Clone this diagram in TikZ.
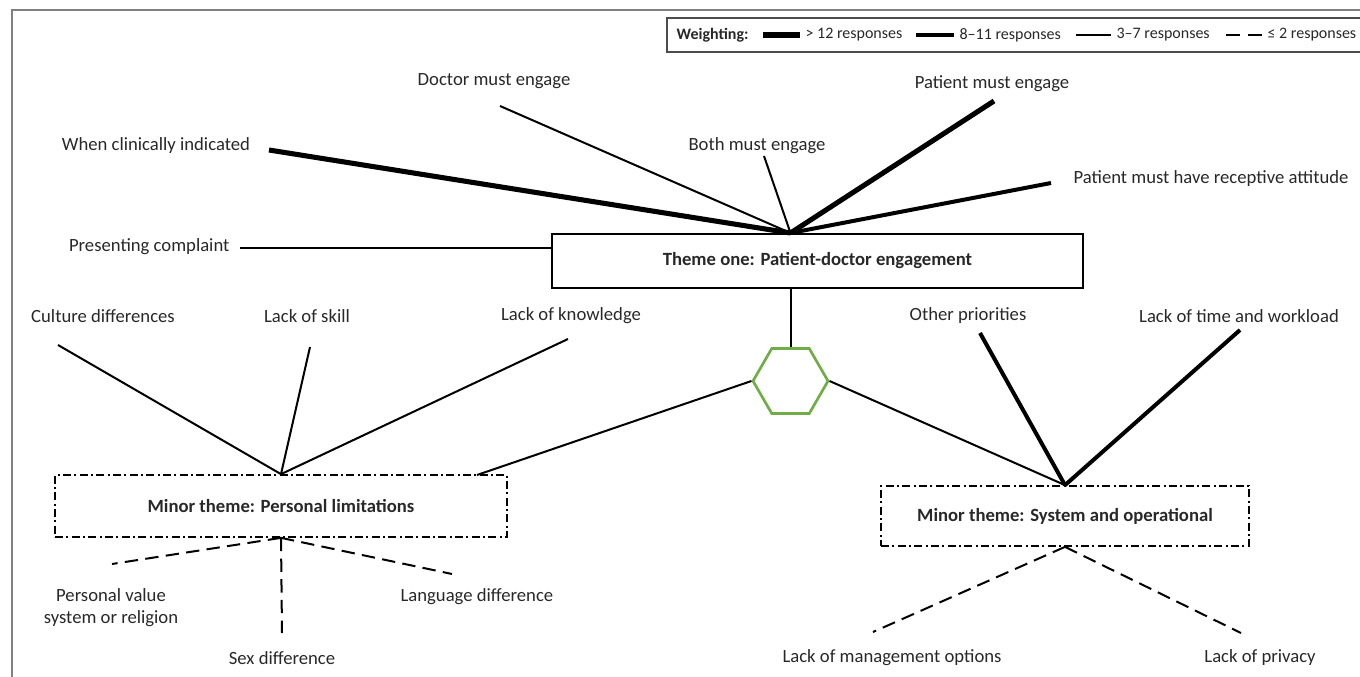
\documentclass[tikz,border=0pt]{standalone}
\usepackage{fontspec}
\setmainfont{Carlito}
\usepackage{xcolor}
\usepackage{tikz}
\usetikzlibrary{positioning}
\usetikzlibrary{shapes.geometric}
\definecolor{textgray}{RGB}{40,40,40}
\definecolor{framegray}{RGB}{128,128,128}
\definecolor{hexgreen}{RGB}{112,173,71}

\begin{document}
\begin{tikzpicture}[x=0.75pt,y=-0.75pt,inner sep=1pt,
    lbl/.style={text=textgray,font=\fontsize{14}{16.5}\selectfont},
    legtext/.style={text=textgray,font=\fontsize{12}{14}\selectfont},
    wtop/.style={line width=3.8pt},
    wmid/.style={line width=3pt},
    wlow/.style={line width=1.5pt},
    wmin/.style={line width=1.5pt,dash pattern=on 10pt off 5.5pt},
    minor/.style={draw,line width=1.3pt,dash pattern=on 6pt off 2.5pt on 1.5pt off 2.5pt,text=textgray,font=\bfseries\fontsize{14}{16.5}\selectfont}]
	\useasboundingbox (0,0) rectangle (1360,677);
	\draw[framegray,line width=1.2pt] (12,677) -- (12,10) -- (1362,10);
	\draw[black!70,line width=1pt] (1364,18) -- (667,18) -- (667,52) -- (1364,52);
	\node[legtext,anchor=west,font=\bfseries\fontsize{12}{14}\selectfont] (weighting) at (675,35) {Weighting:};
	\coordinate (l1a) at (763,35); \coordinate (l1b) at (800,35);
	\coordinate (l2a) at (916,35); \coordinate (l2b) at (954,35);
	\coordinate (l3a) at (1076,35); \coordinate (l3b) at (1111,35);
	\coordinate (l4a) at (1226,35); \coordinate (l4b) at (1262,35);
	\node[legtext,right=3pt of l1b] (leg1) {> 12 responses};
	\node[legtext,right=3pt of l2b] (leg2) {8–11 responses};
	\node[legtext,right=3pt of l3b] (leg3) {3–7 responses};
	\node[legtext,right=3pt of l4b] (leg4) {≤ 2 responses};
	\draw[wtop] (l1a) -- (l1b);
	\draw[wmid] (l2a) -- (l2b);
	\draw[wlow] (l3a) -- (l3b);
	\draw[wmin,dash pattern=on 10.5pt off 6pt] (l4a) -- (l4b);

	\node[draw,line width=1.5pt,minimum width=398pt,minimum height=40.5pt,text=textgray,font=\bfseries\fontsize{14}{16.5}\selectfont] (theme) at (817.5,261) {Theme one: Patient-doctor engagement};
	\node[regular polygon,regular polygon sides=6,minimum size=56.25pt,inner sep=0pt,draw=hexgreen,line width=2pt] (hex) at (790.5,381) {};
	\node[minor,minimum width=339pt,minimum height=46.5pt] (personal) at (281,506) {Minor theme: Personal limitations};
	\node[minor,minimum width=276pt,minimum height=45pt] (system) at (1065,516) {Minor theme: System and operational};

	\node[lbl] (clinical) at (156,146) {When clinically indicated};
	\node[lbl] (doctor) at (494,81) {Doctor must engage};
	\node[lbl] (both) at (757,146) {Both must engage};
	\node[lbl] (patient) at (992,84) {Patient must engage};
	\node[lbl,anchor=west] (receptive) at (1072,179) {Patient must have receptive attitude};
	\node[lbl,anchor=east] (presenting) at (231,247) {Presenting complaint};
	\node[lbl] (culture) at (103,316) {Culture differences};
	\node[lbl] (skill) at (307,316) {Lack of skill};
	\node[lbl] (knowledge) at (571,316) {Lack of knowledge};
	\node[lbl] (priorities) at (968,316) {Other priorities};
	\node[lbl] (workload) at (1239,316) {Lack of time and workload};
	\node[lbl,align=center] (value) at (111,608) {Personal value\\system or religion};
	\node[lbl] (sex) at (282,658) {Sex difference};
	\node[lbl,anchor=west] (language) at (399,597) {Language difference};
	\node[lbl] (options) at (892,658) {Lack of management options};
	\node[lbl] (privacy) at (1260,658) {Lack of privacy};

	\coordinate (e-clinical) at (269,150);
	\coordinate (e-doctor) at (500,106);
	\coordinate (e-both) at (764,156);
	\coordinate (e-patient) at (994,101);
	\coordinate (e-receptive) at (1051,183);
	\coordinate (e-presenting) at (240,248);
	\coordinate (e-culture) at (58,345);
	\coordinate (e-skill) at (310,347);
	\coordinate (e-knowledge) at (568,339);
	\coordinate (e-priorities) at (980,333);
	\coordinate (e-workload) at (1240,330);
	\coordinate (e-value) at (112,564);
	\coordinate (e-sex) at (282,633);
	\coordinate (e-language) at (452,574);
	\coordinate (e-options) at (873,632);
	\coordinate (e-privacy) at (1241,633);
	\coordinate (e-hexleft) at (477,475);
	\coordinate (hub) at (hex.north |- theme.north);
	\coordinate (hub-pres) at (theme.west |- e-presenting);

	\foreach \n/\w in {clinical/wtop,doctor/wlow,both/wlow,patient/wtop,receptive/wmid}
		\draw[\w] (e-\n) -- (hub);
	\draw[wlow] (e-presenting) -- (hub-pres);
	\draw[wlow] (theme.south -| hex.north) -- (hex.north);
	\draw[wlow] (hex.west) -- (e-hexleft);
	\draw[wlow] (hex.east) -- (system.north);
	\foreach \n in {culture,skill,knowledge}
		\draw[wlow] (e-\n) -- (personal.north);
	\foreach \n in {priorities,workload}
		\draw[wmid] (e-\n) -- (system.north);
	\foreach \n in {value,sex,language}
		\draw[wmin] (personal.south) -- (e-\n);
	\foreach \n in {options,privacy}
		\draw[wmin] (system.south) -- (e-\n);
\end{tikzpicture}
\end{document}
